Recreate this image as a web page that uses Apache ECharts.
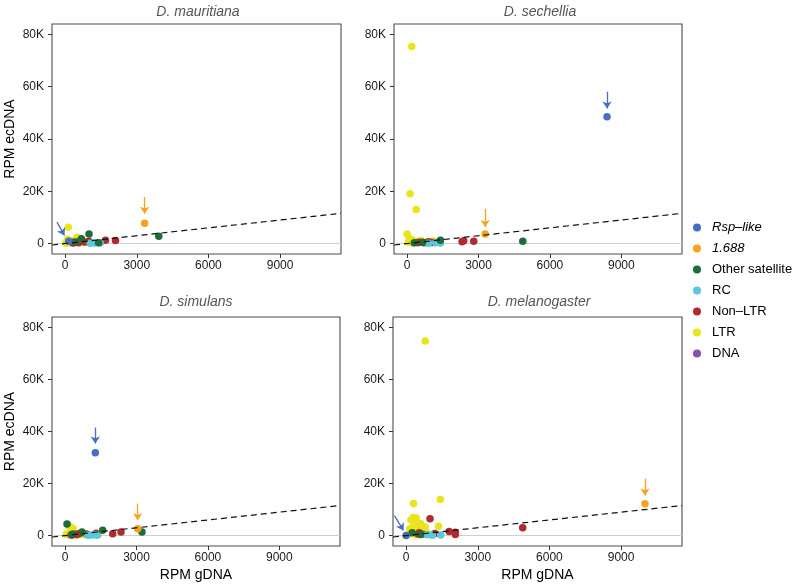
<!DOCTYPE html>
<html>
<head>
<meta charset="utf-8">
<script src="https://cdn.jsdelivr.net/npm/echarts@6/dist/echarts.min.js"></script>
<style>html,body{margin:0;padding:0;background:#fff}#c{width:796px;height:585px}</style>
</head>
<body>
<div id="c"></div>
<script>
// ---------- data ----------
const panels = ['D. mauritiana', 'D. sechellia', 'D. simulans', 'D. melanogaster'];
const categories = ['Rsp–like', '1.688', 'Other satellite', 'RC', 'Non–LTR', 'LTR', 'DNA'];
const xTicks = [0, 3000, 6000, 9000];
const yTicks = [0, 20000, 40000, 60000, 80000];

// D. mauritiana  [RPM gDNA, RPM ecDNA]
const mau_rsp = [[150, 900]];
const mau_1688 = [[3330, 7800]];
const mau_other = [[1000, 3700], [3920, 2800], [680, 1800], [400, 600], [1400, 300]];
const mau_rc = [[1230, 200], [1470, 250], [1050, 100]];
const mau_nonltr = [[2110, 1150], [1690, 1300], [1000, 900], [810, 600], [350, 200], [560, 300]];
const mau_ltr = [[130, 6200], [500, 2400], [50, 300], [100, 1600], [250, 1200], [380, 800], [600, 300], [700, 1200], [900, 500], [200, 200], [30, 100]];
const mau_dna = [[530, 700], [300, 400]];

// D. sechellia
const sec_rsp = [[8400, 48500]];
const sec_1688 = [[3280, 3700]];
const sec_other = [[4860, 900], [1400, 1300], [650, 500], [300, 300]];
const sec_rc = [[1400, 200], [1200, 300], [900, 150]];
const sec_nonltr = [[2310, 700], [2380, 1100], [2800, 900], [900, 700], [1050, 400], [700, 300], [500, 500]];
const sec_ltr = [[195, 75400], [125, 19100], [380, 13000], [0, 3700], [100, 2000], [200, 1500], [300, 1000], [500, 800], [600, 1200], [800, 400], [1000, 600], [1100, 1000], [50, 500], [250, 200]];
const sec_dna = [[450, 300]];

// D. simulans
const sim_rsp = [[1270, 31800]];
const sim_1688 = [[3050, 2600]];
const sim_other = [[80, 4500], [3230, 1400], [1580, 2100], [710, 1400], [300, 500]];
const sim_rc = [[1100, 200], [1250, 300], [1350, 100], [950, 150]];
const sim_nonltr = [[2350, 1400], [2000, 700], [1300, 900], [900, 600], [500, 400], [600, 800], [300, 200]];
const sim_ltr = [[250, 3200], [350, 2600], [150, 3800], [50, 500], [150, 300], [400, 800], [700, 400], [1400, 500], [1000, 300], [200, 1200], [500, 200]];
const sim_dna = [[400, 600], [250, 200]];

// D. melanogaster
const mel_rsp = [[0, 0]];
const mel_1688 = [[10000, 12200]];
const mel_other = [[600, 500], [250, 1100]];
const mel_rc = [[1450, 200], [1100, 100], [900, 300]];
const mel_nonltr = [[4880, 3000], [1000, 6500], [1800, 1600], [2060, 1300], [2060, 400], [500, 600], [550, 1100], [1200, 800]];
const mel_ltr = [[800, 74800], [1430, 13900], [310, 12300], [1360, 3600], [200, 6000], [300, 7000], [420, 6800], [330, 4200], [600, 4600], [800, 3300], [500, 2500], [150, 2600], [300, 1500], [700, 1800], [900, 900], [100, 500], [400, 300], [1000, 400], [600, 200]];
const mel_dna = [[700, 500]];

// arrows: [start, end] per panel, for Rsp-like (blue) and 1.688 (orange)
const rspArrows = [[[-340, 8200], [-30, 3100]], [[8400, 58100], [8400, 51700]], [[1270, 41500], [1270, 35400]], [[-490, 7700], [-110, 2000]]];
const satArrows = [[[3330, 17800], [3330, 11400]], [[3280, 13300], [3280, 6300]], [[3050, 12300], [3050, 5900]], [[10000, 21900], [10000, 15400]]];

const panelData = [
  [mau_rsp, mau_1688, mau_other, mau_rc, mau_nonltr, mau_ltr, mau_dna],
  [sec_rsp, sec_1688, sec_other, sec_rc, sec_nonltr, sec_ltr, sec_dna],
  [sim_rsp, sim_1688, sim_other, sim_rc, sim_nonltr, sim_ltr, sim_dna],
  [mel_rsp, mel_1688, mel_other, mel_rc, mel_nonltr, mel_ltr, mel_dna]
];

// ---------- styling ----------
const colors = ['#4a6cc3', '#f8a11d', '#1c6d38', '#5ac8da', '#b02a2f', '#e9e51a', '#8a50b0'];
const xMin = -550, xMax = 11550, yMin = -4000, yMax = 84000;
const FONT = 'Liberation Sans';
const grids = [
  {left: 52, top: 24, width: 289, height: 230},
  {left: 394, top: 24, width: 288, height: 230},
  {left: 52, top: 317, width: 288, height: 229},
  {left: 393, top: 317, width: 289, height: 229}
];
const titlePos = [[193, 0], [535, 0], [191, 290], [534, 290]];
const drawOrder = [5, 6, 4, 3, 2, 1, 0];

const xAxes = [], yAxes = [], series = [], titles = [];
grids.forEach((g, i) => {
  g.show = true; g.borderColor = '#4d4d4d'; g.borderWidth = 1.1; g.backgroundColor = '#fff';
  titles.push({text: panels[i], left: titlePos[i][0], top: titlePos[i][1], textAlign: 'center',
    textStyle: {fontFamily: FONT, fontStyle: 'italic', fontWeight: 'normal', fontSize: 14, color: '#555'}});
  xAxes.push({
    type: 'value', gridIndex: i, min: xMin, max: xMax, position: 'bottom',
    splitLine: {show: false}, axisLine: {show: false, onZero: false},
    axisTick: {show: true, length: 4, lineStyle: {color: '#333'}, customValues: xTicks},
    axisLabel: {fontFamily: FONT, fontSize: 12, color: '#1a1a1a', margin: 6, customValues: xTicks,
      formatter: v => String(v)},
    name: i >= 2 ? 'RPM gDNA' : '', nameLocation: 'middle', nameGap: 22,
    nameTextStyle: {fontFamily: FONT, fontSize: 14, color: '#000'}
  });
  yAxes.push({
    type: 'value', gridIndex: i, min: yMin, max: yMax, position: 'left',
    splitLine: {show: false}, axisLine: {show: false, onZero: false},
    axisTick: {show: true, length: 4, lineStyle: {color: '#333'}, customValues: yTicks},
    axisLabel: {fontFamily: FONT, fontSize: 12, color: '#1a1a1a', margin: 8, customValues: yTicks,
      formatter: v => v === 0 ? '0' : (v / 1000) + 'K'},
    name: (i % 2 === 0) ? 'RPM ecDNA' : '', nameLocation: 'middle', nameGap: 35,
    nameTextStyle: {fontFamily: FONT, fontSize: 14, color: '#000'}
  });
  // zero reference line + identity dashed line
  series.push({
    type: 'line', xAxisIndex: i, yAxisIndex: i, data: [[xMin, xMin], [xMax, xMax]],
    symbol: 'none', silent: true, z: 3,
    lineStyle: {color: '#111', width: 1.2, type: [6, 4]},
    markLine: {silent: true, symbol: 'none', label: {show: false}, z: 1,
      lineStyle: {color: '#cfcfcf', width: 1, type: 'solid'}, data: [{yAxis: 0}]}
  });
  drawOrder.forEach(c => {
    const s = {
      name: categories[c], type: 'scatter', xAxisIndex: i, yAxisIndex: i,
      data: panelData[i][c], symbolSize: 7.5, z: 2,
      itemStyle: {color: colors[c], opacity: 1}
    };
    if (c === 0 || c === 1) {
      const a = (c === 0 ? rspArrows : satArrows)[i];
      s.markLine = {silent: true, symbol: ['none', 'arrow'], symbolSize: 7, label: {show: false},
        lineStyle: {color: colors[c], width: 1.3, type: 'solid'},
        data: [[{coord: a[0]}, {coord: a[1]}]]};
    }
    series.push(s);
  });
});

const chart = echarts.init(document.getElementById('c'), null, {renderer: 'canvas'});
chart.setOption({
  animation: false,
  color: colors,
  title: titles,
  grid: grids,
  xAxis: xAxes,
  yAxis: yAxes,
  legend: {
    data: categories.map((n, k) => ({name: n, icon: 'circle', itemStyle: {color: colors[k]}})),
    orient: 'vertical', left: 688, top: 216, itemWidth: 20, itemHeight: 8, itemGap: 8,
    selectedMode: false,
    textStyle: {fontFamily: FONT, fontSize: 13, color: '#000', lineHeight: 13,
      rich: {i: {fontFamily: FONT, fontSize: 13, fontStyle: 'italic', color: '#000'}}},
    formatter: n => (n === 'Rsp–like' || n === '1.688') ? '{i|' + n + '}' : n
  },
  series: series
});
</script>
</body>
</html>
